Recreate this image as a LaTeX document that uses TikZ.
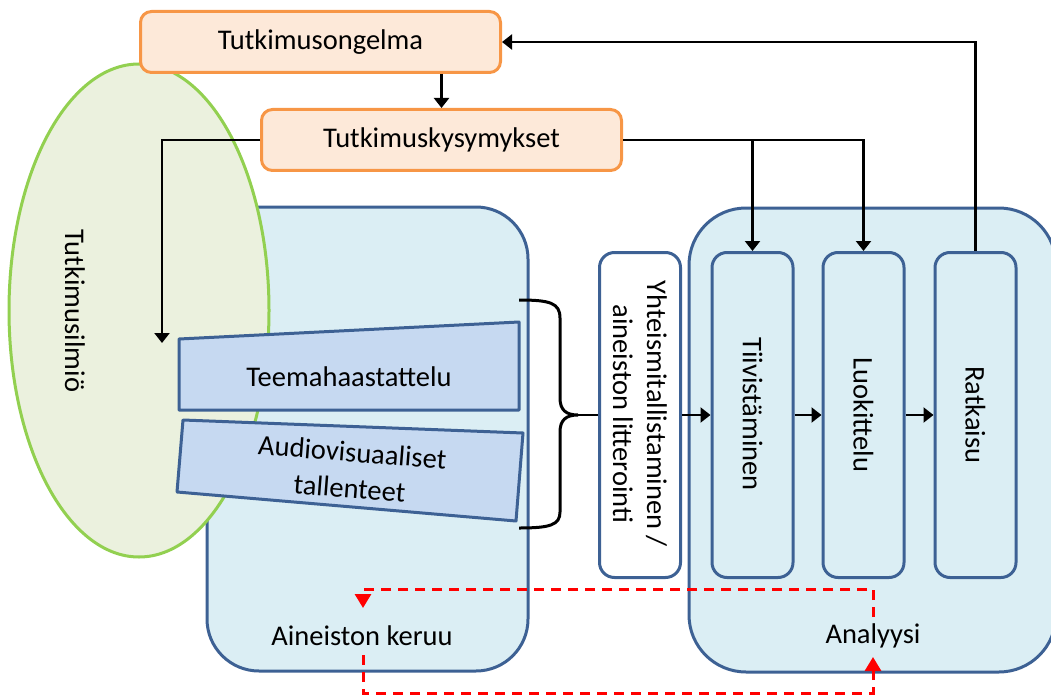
\documentclass[tikz,border=0pt]{standalone}
\usepackage{fontspec}
\setmainfont{Carlito}
\usetikzlibrary{shapes.geometric,arrows.meta}

\definecolor{orfill}{HTML}{FDE9D9}
\definecolor{orline}{HTML}{F79646}
\definecolor{grfill}{HTML}{EBF1DE}
\definecolor{grline}{HTML}{92D050}
\definecolor{bgfill}{HTML}{DBEEF4}
\definecolor{blline}{HTML}{3D6194}
\definecolor{trfill}{HTML}{C6D9F1}

\begin{document}
\begin{tikzpicture}[x=1pt,y=-1pt,
  font=\fontsize{28.5}{34}\selectfont,
  topbox/.style={draw=orline, fill=orfill, line width=3pt, rounded corners=11pt,
    minimum width=360pt, minimum height=61pt, inner sep=0pt},
  container/.style={draw=blline, fill=bgfill, line width=3pt, inner sep=0pt},
  colbox/.style={draw=blline, fill=bgfill, line width=3pt, rounded corners=15pt,
    minimum width=81pt, minimum height=325pt, inner sep=0pt},
  trap/.style={draw=blline, fill=trfill, line width=3pt, line join=round},
  conn/.style={draw=black, line width=2.2pt, -{Triangle[width=15pt,length=10pt]}},
  plain/.style={draw=black, line width=2.2pt},
  bracepath/.style={draw=black, line width=3pt},
  reddash/.style={draw=red, line width=3pt, dash pattern=on 10pt off 7pt,
    -{Triangle[width=16pt,length=14pt]}},
  vtext/.style={rotate=-90, inner sep=0pt, align=center}]

\useasboundingbox (0,0) rectangle (1051,695);

% phase containers
\node[container, rounded corners=52pt, minimum width=321pt, minimum height=464pt]
  (keruu) at (367.5,439) {};
\node[container, rounded corners=57pt, minimum width=367pt, minimum height=464pt]
  (analyysi) at (872.5,440) {};
\node (keruu-t) at (362,636) {Aineiston keruu};
\node (analyysi-t) at (873,636) {Analyysi};

% phenomenon
\node[ellipse, draw=grline, fill=grfill, line width=3pt, minimum width=260pt,
  minimum height=493pt, inner sep=0pt] (ilmio) at (139,310.5) {};
\node[vtext] (ilmio-t) at (75,311) {Tutkimusilmiö};

% data collection methods
\draw[trap] (179,339) -- (519,322) -- (519,410) -- (179,410) -- cycle;
\draw[trap] (183,420) -- (523,433) -- (516,521) -- (177,492) -- cycle;
\node (teema) at (349,377) {Teemahaastattelu};
\node[align=center, rotate=-4.5, font=\fontsize{28.5}{36}\selectfont] (av) at (351,470)
  {Audiovisuaaliset\\tallenteet};

% research problem and questions
\node[topbox] (ongelma) at (320.5,42) {Tutkimusongelma};
\node[topbox] (kysymykset) at (441.5,140) {Tutkimuskysymykset};

% analysis steps
\node[colbox, fill=white] (yht) at (640,415) {};
\node[colbox] (tiiv) at (752.5,415) {};
\node[colbox] (luok) at (863.5,415) {};
\node[colbox] (ratk) at (975.5,415) {};
\node[vtext] (yht-t) at (640,414) {Yhteismitallistaminen /\\aineiston litterointi};
\node[vtext] (tiiv-t) at (752.5,414) {Tiivistäminen};
\node[vtext] (luok-t) at (863.5,415) {Luokittelu};
\node[vtext] (ratk-t) at (975.5,415) {Ratkaisu};

% brace gathering the collected material
\coordinate (bt) at (519,300);
\coordinate (bb) at (519,528);
\coordinate (btip) at (578,415);
\draw[bracepath] (bt) .. controls (550,300) and (560,303) .. (560,318)
  -- (560,398) .. controls (560,410) and (566,415) .. (btip)
  .. controls (566,415) and (560,420) .. (560,432)
  -- (560,512) .. controls (560,525) and (550,528) .. (bb);
\draw[plain] (btip) -- (yht.west);

% flow connectors
\coordinate (ilmio-in) at (162,343);
\draw[conn] (ongelma.south -| kysymykset.north) -- (kysymykset.north);
\draw[conn] (kysymykset.west) -| (ilmio-in);
\draw[conn] (kysymykset.east) -| (tiiv.north);
\draw[conn] (kysymykset.east) -| (luok.north);
\draw[conn] (ratk.north) |- (ongelma.east);
\draw[conn] (yht.east) -- (tiiv.west);
\draw[conn] (tiiv.east) -- (luok.west);
\draw[conn] (luok.east) -- (ratk.west);

% iterative feedback between collection and analysis
\coordinate (fb1) at (873,617);
\coordinate (fb1c) at (873,589);
\coordinate (fb1t) at (363,608);
\coordinate (fb2) at (363,655);
\coordinate (fb2c) at (363,693);
\coordinate (fb2t) at (873,657);
\draw[reddash] (fb1) -- (fb1c) -| (fb1t);
\draw[reddash] (fb2) -- (fb2c) -| (fb2t);
\end{tikzpicture}
\end{document}
